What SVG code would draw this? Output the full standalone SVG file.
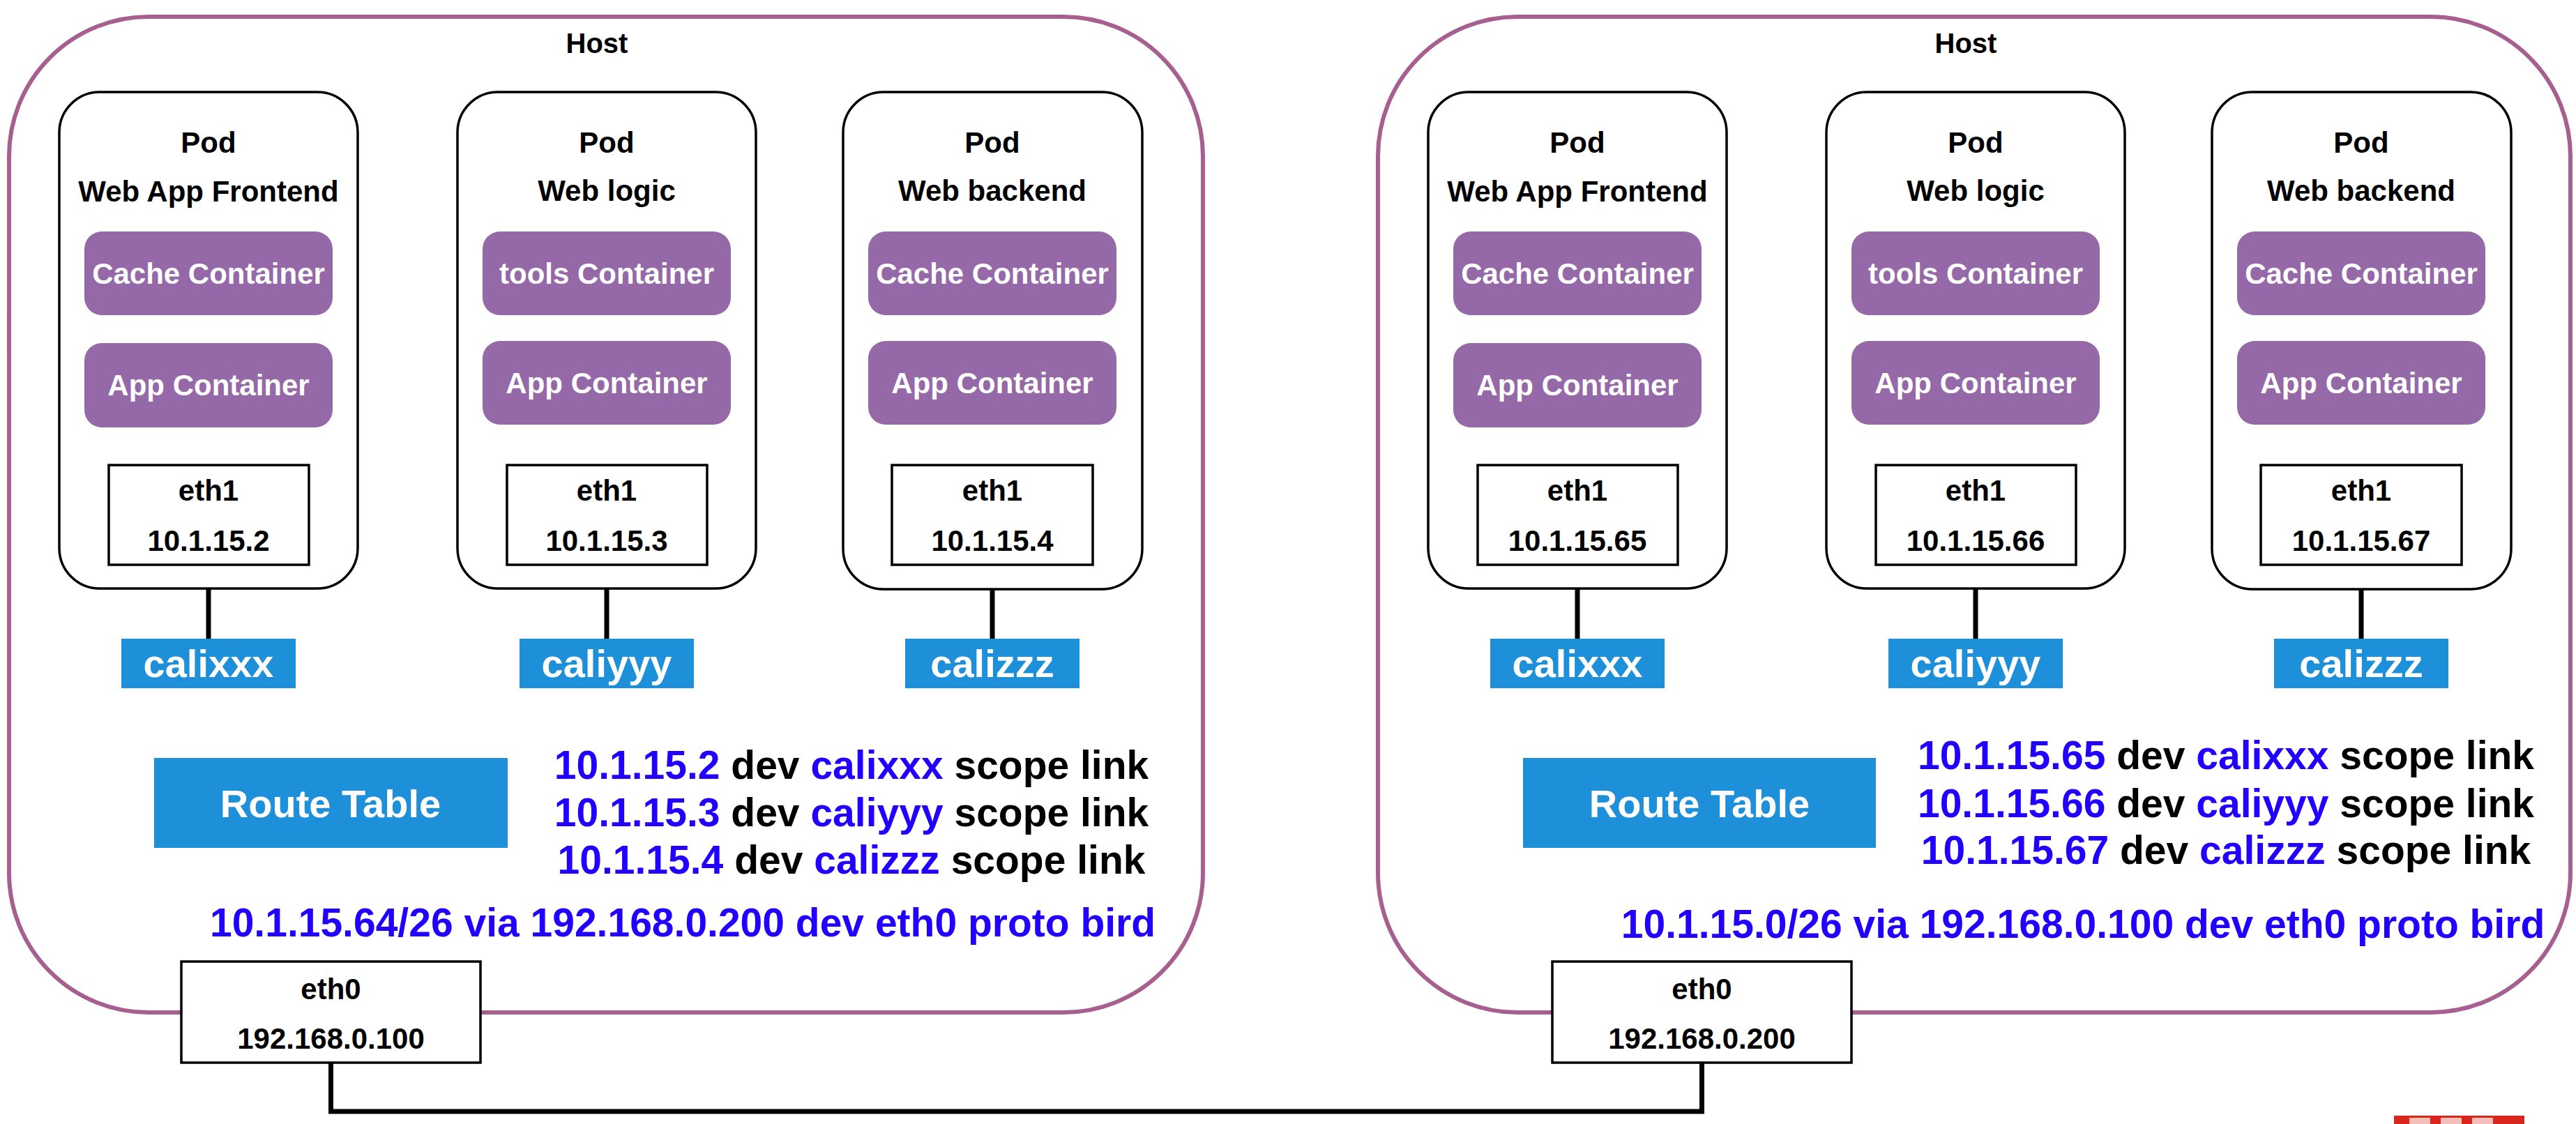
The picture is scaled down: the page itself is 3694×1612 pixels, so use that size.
<svg xmlns="http://www.w3.org/2000/svg" width="3694" height="1612" viewBox="0 0 3694 1612">
<style>
text{font-family:"Liberation Sans",Arial,Helvetica,sans-serif;font-weight:bold;text-anchor:middle}
.host{fill:none;stroke:#a65f8e;stroke-width:6}
.pod{fill:#fff;stroke:#000;stroke-width:3.5}
.ctr{fill:#9569a8}
.cali{fill:#1e8fd9}
.eth{fill:#fff;stroke:#000;stroke-width:3.5}
.wt{fill:#fff;font-size:42px}
.bk{fill:#000;font-size:42px}
.hl{fill:#000;font-size:40px}
.big{fill:#fff;font-size:56px}
.rt{fill:#000;font-size:57px}
.bl{fill:#2200ff}
.ln{stroke:#000;stroke-width:7;fill:none}
</style>
<rect width="3694" height="1612" fill="#fff"/>
<g id="host-left">
<rect class="host" x="13" y="24" width="1712" height="1428" rx="200"/>
<text class="hl" x="856" y="76">Host</text>
</g>
<g id="host-right">
<rect class="host" x="1976" y="24" width="1710" height="1428" rx="200"/>
<text class="hl" x="2819" y="76">Host</text>
</g>
<g id="connectors">
<path class="ln" d="M299 613V667M299 810V916"/>
<path class="ln" d="M870 609V667M870 810V916"/>
<path class="ln" d="M1423 609V667M1423 810V916"/>
<path class="ln" d="M2262 613V667M2262 810V916"/>
<path class="ln" d="M2833 609V667M2833 810V916"/>
<path class="ln" d="M3386 609V667M3386 810V916"/>
<path class="ln" d="M474.5 1524V1594H2440.5V1524"/>
</g>
<g id="pod-l1">
<rect class="pod" x="85" y="132" width="428" height="712" rx="58"/>
<text class="bk" x="299" y="219">Pod</text>
<text class="bk" x="299" y="289">Web App Frontend</text>
<rect class="ctr" x="121" y="332" width="356" height="120" rx="25"/>
<text class="wt" x="299" y="407">Cache Container</text>
<rect class="ctr" x="121" y="492" width="356" height="121" rx="25"/>
<text class="wt" x="299" y="567">App Container</text>
<rect class="eth" x="156" y="667" width="287" height="143"/>
<text class="bk" x="299" y="718">eth1</text>
<text class="bk" x="299" y="790">10.1.15.2</text>
</g>
<g id="pod-l2">
<rect class="pod" x="656" y="132" width="428" height="712" rx="58"/>
<text class="bk" x="870" y="219">Pod</text>
<text class="bk" x="870" y="288">Web logic</text>
<rect class="ctr" x="692" y="332" width="356" height="120" rx="25"/>
<text class="wt" x="870" y="407">tools Container</text>
<rect class="ctr" x="692" y="489" width="356" height="120" rx="25"/>
<text class="wt" x="870" y="564">App Container</text>
<rect class="eth" x="727" y="667" width="287" height="143"/>
<text class="bk" x="870" y="718">eth1</text>
<text class="bk" x="870" y="790">10.1.15.3</text>
</g>
<g id="pod-l3">
<rect class="pod" x="1209" y="132" width="429" height="713" rx="58"/>
<text class="bk" x="1423" y="219">Pod</text>
<text class="bk" x="1423" y="288">Web backend</text>
<rect class="ctr" x="1245" y="332" width="356" height="120" rx="25"/>
<text class="wt" x="1423" y="407">Cache Container</text>
<rect class="ctr" x="1245" y="489" width="356" height="120" rx="25"/>
<text class="wt" x="1423" y="564">App Container</text>
<rect class="eth" x="1279" y="667" width="288" height="143"/>
<text class="bk" x="1423" y="718">eth1</text>
<text class="bk" x="1423" y="790">10.1.15.4</text>
</g>
<g id="cali-l">
<rect class="cali" x="174" y="916" width="250" height="71"/>
<text class="big" x="299" y="971">calixxx</text>
<rect class="cali" x="745" y="916" width="250" height="71"/>
<text class="big" x="870" y="971">caliyyy</text>
<rect class="cali" x="1298" y="916" width="250" height="71"/>
<text class="big" x="1423" y="971">calizzz</text>
</g>
<g id="route-l">
<rect class="cali" x="221" y="1087" width="507" height="129"/>
<text class="big" x="474" y="1172">Route Table</text>
<text class="rt" x="1221" y="1117"><tspan class="bl">10.1.15.2</tspan> dev <tspan class="bl">calixxx</tspan> scope link</text>
<text class="rt" x="1221" y="1185"><tspan class="bl">10.1.15.3</tspan> dev <tspan class="bl">caliyyy</tspan> scope link</text>
<text class="rt" x="1221" y="1253"><tspan class="bl">10.1.15.4</tspan> dev <tspan class="bl">calizzz</tspan> scope link</text>
<text class="rt bl" x="979" y="1343">10.1.15.64/26 via 192.168.0.200 dev eth0 proto bird</text>
</g>
<g id="eth0-l">
<rect class="eth" x="260" y="1379" width="429" height="145"/>
<text class="bk" x="474.5" y="1433">eth0</text>
<text class="bk" x="474.5" y="1504">192.168.0.100</text>
</g>
<g id="pod-r1">
<rect class="pod" x="2048" y="132" width="428" height="712" rx="58"/>
<text class="bk" x="2262" y="219">Pod</text>
<text class="bk" x="2262" y="289">Web App Frontend</text>
<rect class="ctr" x="2084" y="332" width="356" height="120" rx="25"/>
<text class="wt" x="2262" y="407">Cache Container</text>
<rect class="ctr" x="2084" y="492" width="356" height="121" rx="25"/>
<text class="wt" x="2262" y="567">App Container</text>
<rect class="eth" x="2119" y="667" width="287" height="143"/>
<text class="bk" x="2262" y="718">eth1</text>
<text class="bk" x="2262" y="790">10.1.15.65</text>
</g>
<g id="pod-r2">
<rect class="pod" x="2619" y="132" width="428" height="712" rx="58"/>
<text class="bk" x="2833" y="219">Pod</text>
<text class="bk" x="2833" y="288">Web logic</text>
<rect class="ctr" x="2655" y="332" width="356" height="120" rx="25"/>
<text class="wt" x="2833" y="407">tools Container</text>
<rect class="ctr" x="2655" y="489" width="356" height="120" rx="25"/>
<text class="wt" x="2833" y="564">App Container</text>
<rect class="eth" x="2690" y="667" width="287" height="143"/>
<text class="bk" x="2833" y="718">eth1</text>
<text class="bk" x="2833" y="790">10.1.15.66</text>
</g>
<g id="pod-r3">
<rect class="pod" x="3172" y="132" width="429" height="713" rx="58"/>
<text class="bk" x="3386" y="219">Pod</text>
<text class="bk" x="3386" y="288">Web backend</text>
<rect class="ctr" x="3208" y="332" width="356" height="120" rx="25"/>
<text class="wt" x="3386" y="407">Cache Container</text>
<rect class="ctr" x="3208" y="489" width="356" height="120" rx="25"/>
<text class="wt" x="3386" y="564">App Container</text>
<rect class="eth" x="3242" y="667" width="288" height="143"/>
<text class="bk" x="3386" y="718">eth1</text>
<text class="bk" x="3386" y="790">10.1.15.67</text>
</g>
<g id="cali-r">
<rect class="cali" x="2137" y="916" width="250" height="71"/>
<text class="big" x="2262" y="971">calixxx</text>
<rect class="cali" x="2708" y="916" width="250" height="71"/>
<text class="big" x="2833" y="971">caliyyy</text>
<rect class="cali" x="3261" y="916" width="250" height="71"/>
<text class="big" x="3386" y="971">calizzz</text>
</g>
<g id="route-r">
<rect class="cali" x="2184" y="1087" width="506" height="129"/>
<text class="big" x="2437" y="1172">Route Table</text>
<text class="rt" x="3192" y="1103"><tspan class="bl">10.1.15.65</tspan> dev <tspan class="bl">calixxx</tspan> scope link</text>
<text class="rt" x="3192" y="1172"><tspan class="bl">10.1.15.66</tspan> dev <tspan class="bl">caliyyy</tspan> scope link</text>
<text class="rt" x="3192" y="1239"><tspan class="bl">10.1.15.67</tspan> dev <tspan class="bl">calizzz</tspan> scope link</text>
<text class="rt bl" x="2987" y="1345">10.1.15.0/26 via 192.168.0.100 dev eth0 proto bird</text>
</g>
<g id="eth0-r">
<rect class="eth" x="2226" y="1379" width="429" height="145"/>
<text class="bk" x="2440.5" y="1433">eth0</text>
<text class="bk" x="2440.5" y="1504">192.168.0.200</text>
</g>
<g id="watermark">
<rect x="3433" y="1600" width="187" height="12" fill="#d9261c"/>
<rect x="3455" y="1603" width="30" height="9" fill="#fff" opacity="0.7"/>
<rect x="3500" y="1603" width="30" height="9" fill="#fff" opacity="0.7"/>
<rect x="3545" y="1603" width="30" height="9" fill="#fff" opacity="0.7"/>
</g>
</svg>
